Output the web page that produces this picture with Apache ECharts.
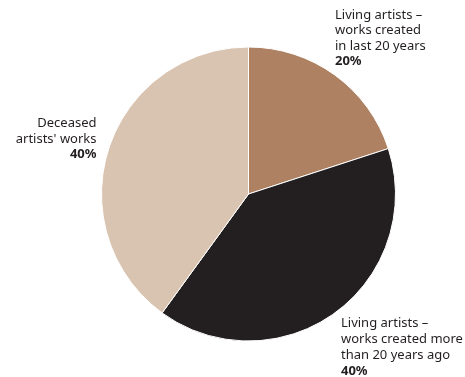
<!DOCTYPE html>
<html><head><meta charset="utf-8">
<script src="https://cdn.jsdelivr.net/npm/echarts@6/dist/echarts.min.js"></script>
<style>html,body{margin:0;padding:0;background:#fff}#c{width:465px;height:377px}</style>
</head><body><div id="c"></div>
<script>
const categories = [
  "Living artists –\nworks created\nin last 20 years",
  "Living artists –\nworks created more\nthan 20 years ago",
  "Deceased\nartists' works"
];
const shares = [20, 40, 40];
const colors = ["#ad8161", "#231f20", "#d9c4b1"];

const labelSpots = [
  {x: 335, y: 7.5, align: 'left', lh: 15.4},
  {x: 341, y: 315, align: 'left', lh: 16},
  {x: 96.5, y: 116, align: 'right', lh: 15.4}
];

const richFor = lh => ({
  n: {fontFamily: 'Noto Sans', fontSize: 13, lineHeight: lh, color: '#231f20'},
  v: {fontFamily: 'Noto Sans', fontSize: 13, fontWeight: 'bold', lineHeight: lh, color: '#231f20'}
});

const chart = echarts.init(document.getElementById('c'));
chart.setOption({
  animation: false,
  series: [{
    type: 'pie',
    center: [248.5, 194],
    radius: [0, 147],
    startAngle: 90,
    clockwise: true,
    data: categories.map((n, i) => ({
      name: n, value: shares[i],
      itemStyle: {color: colors[i]},
      label: {lineHeight: labelSpots[i].lh, rich: richFor(labelSpots[i].lh)}
    })),
    itemStyle: {borderColor: '#fff', borderWidth: 1},
    labelLine: {show: false},
    label: {
      show: true,
      position: 'outside',
      alignTo: 'none',
      overflow: 'none',
      width: 200,
      color: '#231f20',
      fontFamily: 'Noto Sans',
      fontSize: 13,
      formatter: p => p.name.split('\n').map(l => '{n|' + l + '}').join('\n') + '\n{v|' + p.value + '%}'
    },
    labelLayout: params => {
      const s = labelSpots[params.dataIndex];
      return {x: s.x, y: s.y, align: s.align, verticalAlign: 'top', moveOverlap: null};
    }
  }]
});
</script></body></html>
